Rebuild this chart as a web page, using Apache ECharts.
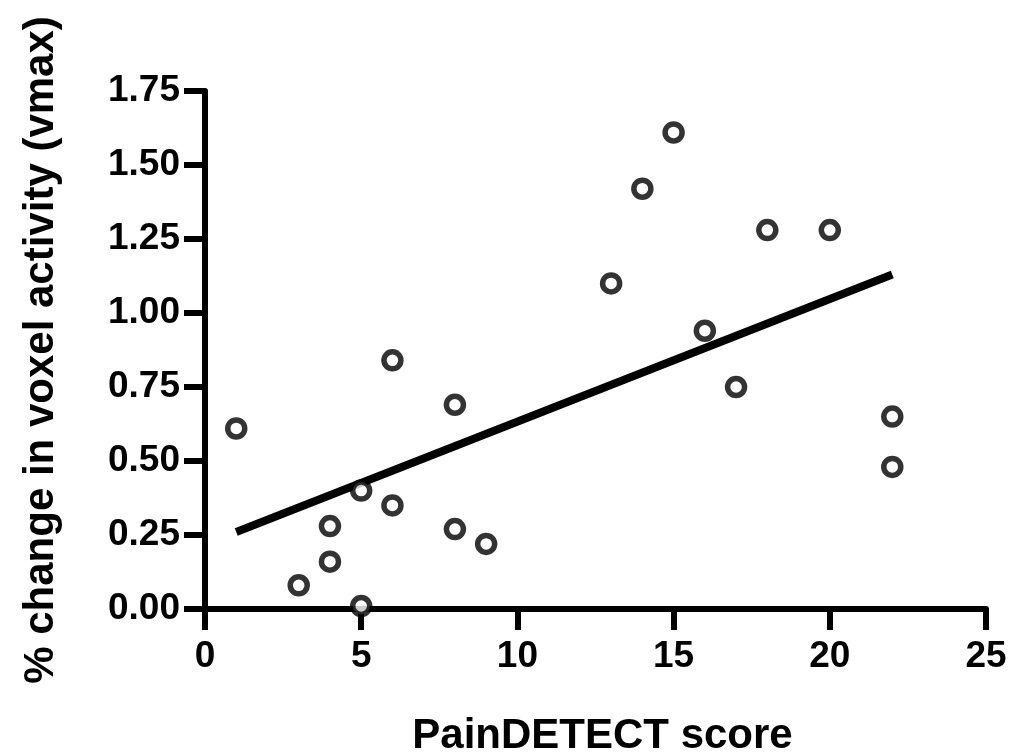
<!DOCTYPE html>
<html>
<head>
<meta charset="utf-8">
<style>
  html, body { margin: 0; padding: 0; background: #ffffff; }
  #chart { width: 1009px; height: 755px; }
</style>
<script src="https://cdn.jsdelivr.net/npm/echarts@6/dist/echarts.min.js"></script>
</head>
<body>
<div id="chart"></div>
<script>
// PainDETECT score for each subject
const painScores = [1, 3, 4, 4, 5, 5, 6, 6, 8, 8, 9, 13, 14, 15, 16, 17, 18, 20, 22, 22];
// % change in voxel activity (vmax) for each subject
const voxelChange = [0.61, 0.08, 0.28, 0.16, 0.40, 0.01, 0.84, 0.35, 0.69, 0.27, 0.22,
                     1.10, 1.42, 1.61, 0.94, 0.75, 1.28, 1.28, 0.65, 0.48];
// Endpoints of the fitted regression line
const fitX = [1, 22];
const fitY = [0.26, 1.13];

const xTicks = [0, 5, 10, 15, 20, 25];
const yTicks = [0, 0.25, 0.5, 0.75, 1.0, 1.25, 1.5, 1.75];

const points = painScores.map((x, i) => [x, voxelChange[i]]);
const fitLine = fitX.map((x, i) => [x, fitY[i]]);

const font = '"Liberation Sans", Arial, Helvetica, sans-serif';

const chart = echarts.init(document.getElementById('chart'), null, { renderer: 'canvas' });
chart.setOption({
  backgroundColor: '#ffffff',
  animation: false,
  grid: {
    left: 205, right: 23, top: 91, bottom: 146,
    containLabel: false,
    outerBoundsMode: 'none'
  },
  xAxis: {
    type: 'value',
    min: xTicks[0],
    max: xTicks[xTicks.length - 1],
    interval: 5,
    name: 'PainDETECT score',
    nameLocation: 'middle',
    nameGap: 106,
    nameTextStyle: { color: '#000', fontFamily: font, fontWeight: 'bold', fontSize: 42, padding: [0, 0, 0, 14] },
    axisLine: { show: true, onZero: false, lineStyle: { color: '#000', width: 6 } },
    axisTick: { show: true, inside: false, length: 21, lineStyle: { color: '#000', width: 6 } },
    axisLabel: { color: '#000', fontFamily: font, fontWeight: 'bold', fontSize: 37, margin: 29 },
    splitLine: { show: false }
  },
  yAxis: {
    type: 'value',
    min: yTicks[0],
    max: yTicks[yTicks.length - 1],
    interval: 0.25,
    name: '% change in voxel activity (vmax)',
    nameLocation: 'middle',
    nameGap: 143,
    nameTextStyle: { color: '#000', fontFamily: font, fontWeight: 'bold', fontSize: 42 },
    axisLine: { show: true, onZero: false, lineStyle: { color: '#000', width: 6 } },
    axisTick: { show: true, inside: false, length: 21, lineStyle: { color: '#000', width: 6 } },
    axisLabel: {
      color: '#000', fontFamily: font, fontWeight: 'bold', fontSize: 37, margin: 25,
      formatter: v => v.toFixed(2)
    },
    splitLine: { show: false }
  },
  series: [
    {
      type: 'line',
      data: fitLine,
      symbol: 'none',
      lineStyle: { color: '#000', width: 8 },
      z: 2
    },
    {
      type: 'scatter',
      data: points,
      symbol: 'circle',
      symbolSize: 17,
      itemStyle: { color: '#ffffff', borderColor: '#000', borderWidth: 5.5 },
      z: 3
    }
  ]
});
</script>
</body>
</html>
